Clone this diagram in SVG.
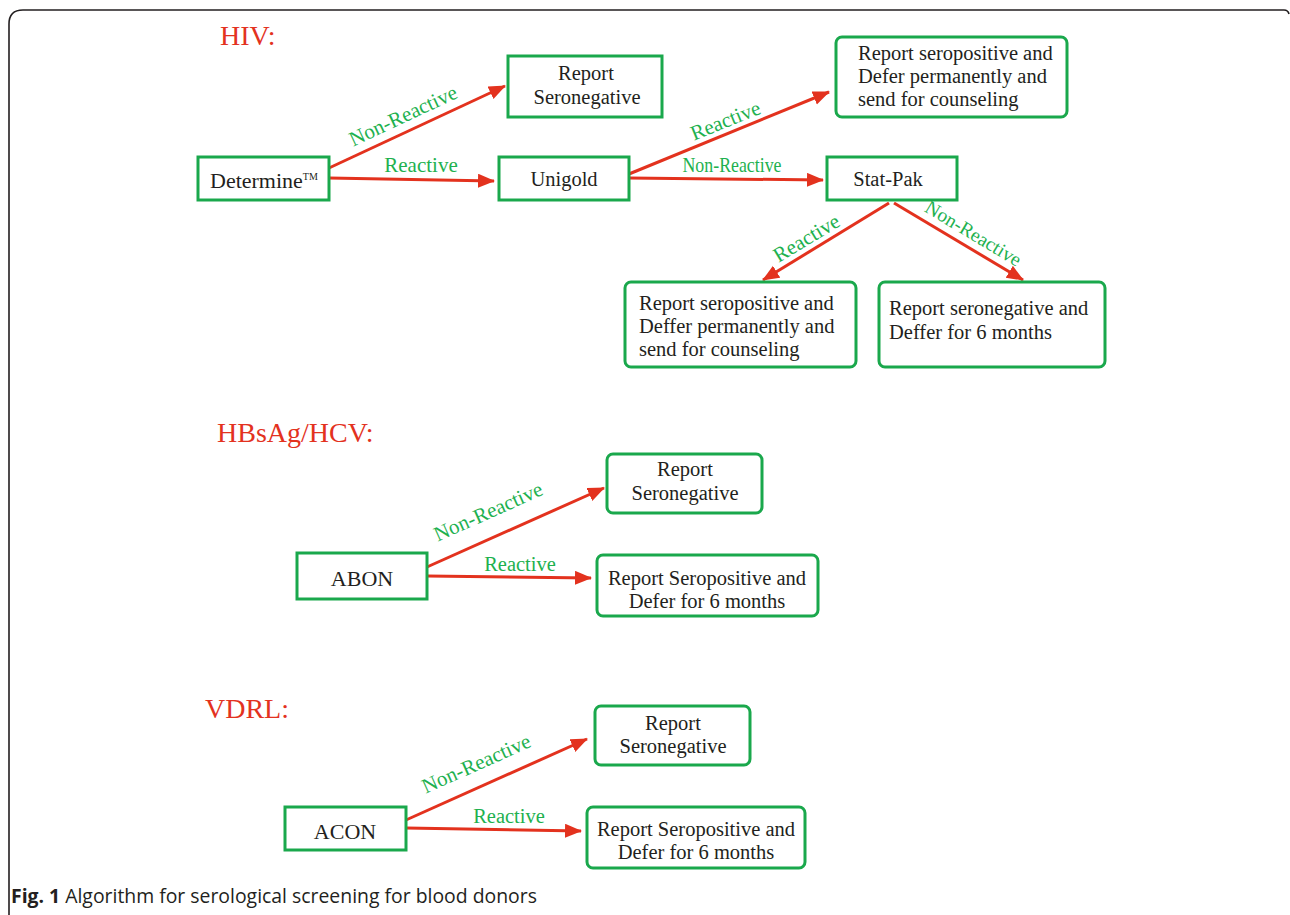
<svg xmlns="http://www.w3.org/2000/svg" width="1290" height="915" viewBox="0 0 1290 915">
<style>
.box{fill:#fff;stroke:#1aa84c;stroke-width:3}
.t{font-family:"Liberation Serif",serif;font-size:20.5px;fill:#231f20}
.tc{text-anchor:middle}
.h{font-family:"Liberation Serif",serif;font-size:28px;fill:#e3321e}
.lbl{font-family:"Liberation Serif",serif;font-size:21px;fill:#1eb14f;text-anchor:middle}
.ar{stroke:#e3321e;stroke-width:3;fill:none;marker-end:url(#ah)}
.cap{font-family:"Open Sans",sans-serif;font-size:19.4px;fill:#231f20}
</style>
<defs>
<marker id="ah" markerUnits="userSpaceOnUse" markerWidth="18" markerHeight="16" refX="16" refY="7" orient="auto">
<path d="M0,0 L17,7 L0,14 Z" fill="#e3321e"/>
</marker>
</defs>
<rect width="1290" height="915" fill="#fff"/>
<path d="M9,915 L9,24 Q9,10 23,10 L1284,10 Q1288,10 1289,14" fill="none" stroke="#231f20" stroke-width="1.6"/>
<text class="h" x="220" y="45">HIV:</text>
<text class="h" x="217" y="442">HBsAg/HCV:</text>
<text class="h" x="205" y="718">VDRL:</text>
<g id="connectors">
<line class="ar" x1="329" y1="168" x2="505" y2="86"/>
<line class="ar" x1="329" y1="178" x2="494" y2="181"/>
<line class="ar" x1="629" y1="174" x2="829" y2="92"/>
<line class="ar" x1="629" y1="178" x2="823" y2="180"/>
<line class="ar" x1="889" y1="203" x2="763" y2="280"/>
<line class="ar" x1="894" y1="203" x2="1023" y2="280"/>
<line class="ar" x1="427" y1="567" x2="604" y2="488"/>
<line class="ar" x1="427" y1="576" x2="591" y2="578"/>
<line class="ar" x1="406" y1="820" x2="587" y2="739"/>
<line class="ar" x1="406" y1="828" x2="581" y2="831"/>
<text class="lbl" transform="translate(406,122) rotate(-25)">Non-Reactive</text>
<text class="lbl" x="421" y="172">Reactive</text>
<text class="lbl" transform="translate(728,127) rotate(-22)">Reactive</text>
<text class="lbl" transform="translate(732,172) scale(0.85,1)">Non-Reactive</text>
<text class="lbl" transform="translate(810,244) rotate(-31)">Reactive</text>
<text class="lbl" transform="translate(970,239) rotate(31)" style="font-size:19.5px">Non-Reactive</text>
<text class="lbl" transform="translate(491,518) rotate(-24)">Non-Reactive</text>
<text class="lbl" x="520" y="571" style="font-size:20.5px">Reactive</text>
<text class="lbl" transform="translate(479,770) rotate(-24)">Non-Reactive</text>
<text class="lbl" x="509" y="823" style="font-size:20.5px">Reactive</text>
</g>
<g id="determine">
<rect class="box" x="198" y="157" width="131" height="43"/>
<text class="t" x="210" y="188" style="font-size:22px">Determine<tspan style="font-size:10px" dy="-8">TM</tspan></text>
</g>
<g id="hiv-seroneg">
<rect class="box" x="508" y="56" width="154" height="61"/>
<text class="t tc" x="586" y="80">Report</text>
<text class="t tc" x="587" y="104">Seronegative</text>
</g>
<g id="unigold">
<rect class="box" x="499" y="157" width="130" height="43"/>
<text class="t tc" x="564" y="186">Unigold</text>
</g>
<g id="hiv-seropos-1">
<rect class="box" x="836" y="37" width="231" height="80" rx="6"/>
<text class="t" x="858" y="60">Report seropositive and</text>
<text class="t" x="858" y="83">Defer permanently and</text>
<text class="t" x="858" y="106">send for counseling</text>
</g>
<g id="statpak">
<rect class="box" x="827" y="157" width="130" height="43"/>
<text class="t tc" x="888" y="186">Stat-Pak</text>
</g>
<g id="hiv-seropos-2">
<rect class="box" x="625" y="282" width="231" height="85" rx="6"/>
<text class="t" x="639" y="310">Report seropositive and</text>
<text class="t" x="639" y="333">Deffer permanently and</text>
<text class="t" x="639" y="356">send for counseling</text>
</g>
<g id="hiv-seroneg-2">
<rect class="box" x="879" y="282" width="226" height="85" rx="6"/>
<text class="t" x="889" y="315">Report seronegative and</text>
<text class="t" x="889" y="339">Deffer for 6 months</text>
</g>
<g id="abon">
<rect class="box" x="297" y="553" width="130" height="46"/>
<text class="t tc" x="362" y="586" style="font-size:22px">ABON</text>
</g>
<g id="hbs-seroneg">
<rect class="box" x="607" y="454" width="155" height="59" rx="6"/>
<text class="t tc" x="685" y="476">Report</text>
<text class="t tc" x="685" y="500">Seronegative</text>
</g>
<g id="hbs-seropos">
<rect class="box" x="597" y="555" width="221" height="61" rx="6"/>
<text class="t tc" x="707" y="585">Report Seropositive and</text>
<text class="t tc" x="707" y="608">Defer for 6 months</text>
</g>
<g id="acon">
<rect class="box" x="285" y="807" width="121" height="43"/>
<text class="t tc" x="345" y="839" style="font-size:22px">ACON</text>
</g>
<g id="vdrl-seroneg">
<rect class="box" x="595" y="706" width="155" height="59" rx="6"/>
<text class="t tc" x="673" y="730">Report</text>
<text class="t tc" x="673" y="753">Seronegative</text>
</g>
<g id="vdrl-seropos">
<rect class="box" x="587" y="807" width="218" height="61" rx="6"/>
<text class="t tc" x="696" y="836">Report Seropositive and</text>
<text class="t tc" x="696" y="859">Defer for 6 months</text>
</g>
<text class="cap" x="11" y="903"><tspan font-weight="bold">Fig. 1</tspan> Algorithm for serological screening for blood donors</text>
</svg>
